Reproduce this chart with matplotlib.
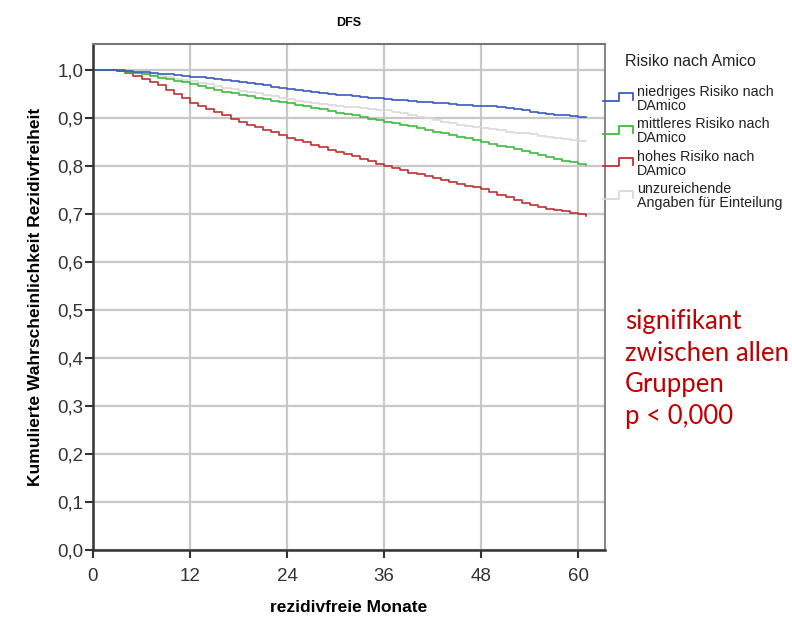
import matplotlib
matplotlib.use("Agg")
import matplotlib.pyplot as plt
from matplotlib.lines import Line2D

# Kaplan-Meier Werte, je Monat 0..61
monate = list(range(62))

niedrig = [1.0, 1.0, 1.0, 0.999, 0.998, 0.997, 0.996, 0.995, 0.993, 0.992,
           0.990, 0.989, 0.987, 0.986, 0.984, 0.982, 0.980, 0.978, 0.976, 0.974,
           0.971, 0.969, 0.966, 0.964, 0.961, 0.959, 0.957, 0.955, 0.953, 0.951,
           0.949, 0.948, 0.946, 0.945, 0.943, 0.942, 0.940, 0.939, 0.938, 0.937,
           0.935, 0.934, 0.932, 0.931, 0.929, 0.928, 0.927, 0.926, 0.925, 0.925,
           0.924, 0.922, 0.919, 0.917, 0.914, 0.912, 0.910, 0.908, 0.906, 0.905,
           0.903, 0.902]
mittel = [1.0, 1.0, 1.0, 0.999, 0.997, 0.995, 0.992, 0.989, 0.985, 0.982,
          0.978, 0.975, 0.971, 0.968, 0.964, 0.959, 0.955, 0.952, 0.949, 0.946,
          0.943, 0.940, 0.937, 0.934, 0.931, 0.928, 0.925, 0.922, 0.919, 0.915,
          0.912, 0.909, 0.906, 0.902, 0.899, 0.896, 0.893, 0.890, 0.886, 0.883,
          0.879, 0.876, 0.872, 0.869, 0.865, 0.862, 0.859, 0.855, 0.850, 0.847,
          0.843, 0.840, 0.836, 0.832, 0.828, 0.823, 0.819, 0.815, 0.811, 0.808,
          0.805, 0.803]
hoch = [1.0, 1.0, 1.0, 1.0, 0.994, 0.989, 0.983, 0.976, 0.969, 0.960,
        0.951, 0.942, 0.933, 0.926, 0.919, 0.913, 0.906, 0.899, 0.893, 0.887,
        0.882, 0.876, 0.871, 0.866, 0.860, 0.855, 0.850, 0.845, 0.840, 0.835,
        0.830, 0.826, 0.821, 0.816, 0.811, 0.805, 0.800, 0.796, 0.792, 0.787,
        0.783, 0.779, 0.775, 0.771, 0.767, 0.763, 0.759, 0.756, 0.752, 0.746,
        0.741, 0.735, 0.729, 0.724, 0.720, 0.716, 0.712, 0.709, 0.706, 0.703,
        0.700, 0.697]
unzureichend = [1.0, 1.0, 1.0, 0.999, 0.997, 0.995, 0.993, 0.991, 0.988, 0.986,
                0.983, 0.980, 0.977, 0.974, 0.971, 0.967, 0.964, 0.961, 0.958, 0.955,
                0.952, 0.949, 0.946, 0.943, 0.940, 0.937, 0.935, 0.932, 0.930, 0.928,
                0.926, 0.924, 0.923, 0.921, 0.920, 0.918, 0.917, 0.914, 0.911, 0.907,
                0.903, 0.900, 0.897, 0.893, 0.890, 0.887, 0.884, 0.881, 0.879, 0.877,
                0.875, 0.872, 0.870, 0.869, 0.867, 0.864, 0.862, 0.859, 0.856, 0.854,
                0.853, 0.853]

gruppen = ["niedriges Risiko nach\nDAmico", "mittleres Risiko nach\nDAmico",
           "hohes Risiko nach\nDAmico", "unzureichende\nAngaben für Einteilung"]
farben = ["#3b5bbf", "#3dbb3d", "#c03030", "#d9d9d9"]
x_ticks = [0, 12, 24, 36, 48, 60]
y_ticks = [0.0, 0.1, 0.2, 0.3, 0.4, 0.5, 0.6, 0.7, 0.8, 0.9, 1.0]

plt.rcParams['font.family'] = ['Liberation Sans', 'DejaVu Sans']

fig = plt.figure(figsize=(7.92, 6.17), dpi=100)
ax = fig.add_axes([93/792, 1 - 550/617, 512/792, 506/617])

# zuerst grau, damit die farbigen Kurven oben liegen
for werte, farbe in zip([unzureichend, hoch, mittel, niedrig], farben[::-1]):
    ax.plot(monate, werte, drawstyle='steps-post', color=farbe, lw=1.2)

ax.set_xlim(0, 63.3)
ax.set_ylim(0, 1.055)
ax.set_xticks(x_ticks)
ax.set_yticks(y_ticks)
ax.set_yticklabels([f"{v:.1f}".replace(".", ",") for v in y_ticks])
ax.grid(True, color="#c8c8c8", lw=1.6)
ax.set_axisbelow(True)
ax.tick_params(direction='out', length=6, width=1.5, color="#333333",
               labelsize=13.5, labelcolor="#333333")
ax.tick_params(axis='x', pad=7)
ax.tick_params(axis='y', pad=1)

ax.spines['left'].set_color("#333333")
ax.spines['bottom'].set_color("#333333")
ax.spines['left'].set_linewidth(1.8)
ax.spines['bottom'].set_linewidth(1.8)
ax.spines['top'].set_color("#777777")
ax.spines['right'].set_color("#888888")
ax.spines['top'].set_linewidth(1.5)
ax.spines['right'].set_linewidth(1.5)

ax.set_xlabel("rezidivfreie Monate", fontsize=12.5, fontweight='bold', labelpad=11)
ax.set_ylabel("Kumulierte Wahrscheinlichkeit Rezidivfreiheit", fontsize=12.5,
              fontweight='bold', labelpad=10)
ax.set_title("DFS", fontsize=9, fontweight='bold', pad=13)

# Legende rechts mit Treppen-Symbolen
fig.text(625/792, 1 - 62/617, "Risiko nach Amico", fontsize=11.5, va='center',
         color="#222222")
for i, (name, farbe) in enumerate(zip(gruppen, farben)):
    y0 = 100 + i * 32.5
    xs = [603, 619, 619, 633, 633]
    ys = [y0 + 1, y0 + 1, y0 - 7, y0 - 7, y0]
    fig.add_artist(Line2D([v / 792 for v in xs], [1 - v / 617 for v in ys],
                          color=farbe, lw=1.3))
    fig.text(637/792, 1 - (y0 - 1) / 617, name, fontsize=10.3, va='center',
             linespacing=1.0, color="#222222")

fig.text(625/792, 1 - 369/617, "signifikant\nzwischen allen\nGruppen\np < 0,000",
         fontsize=18.5, color="#c00000", va='center', linespacing=1.33,
         family=['Lato', 'DejaVu Sans'])

fig.savefig("out.png", dpi=100)
